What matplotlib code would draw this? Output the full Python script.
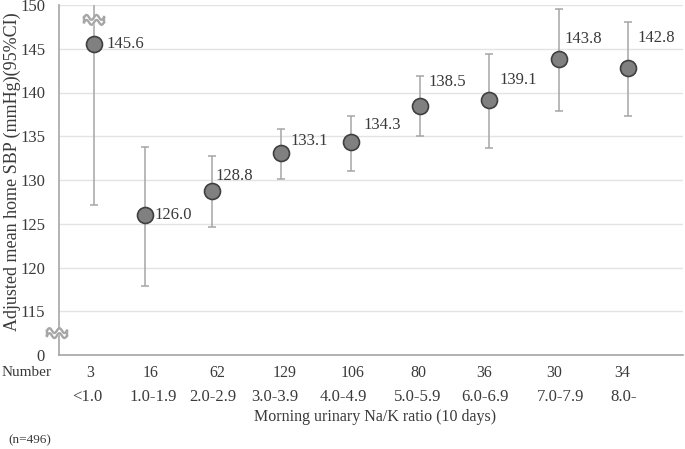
import numpy as np
import matplotlib
matplotlib.use("Agg")
import matplotlib.pyplot as plt
import matplotlib.transforms as mtransforms

plt.rcParams['font.family'] = ['Liberation Serif', 'DejaVu Serif']

# ---- data ----
categories = ["<1.0", "1.0-1.9", "2.0-2.9", "3.0-3.9", "4.0-4.9",
              "5.0-5.9", "6.0-6.9", "7.0-7.9", "8.0-"]
numbers = ["3", "16", "62", "129", "106", "80", "36", "30", "34"]
means = [145.6, 126.0, 128.8, 133.1, 134.3, 138.5, 139.1, 143.8, 142.8]
ci_low = [127.2, 117.9, 124.6, 130.1, 131.0, 135.0, 133.7, 137.9, 137.3]
ci_high = [164.0, 133.8, 132.7, 135.8, 137.3, 141.9, 144.4, 149.5, 148.1]
ytick_vals = [110, 115, 120, 125, 130, 135, 140, 145, 150]
ytick_labels = ["0", "115", "120", "125", "130", "135", "140", "145", "150"]

# ---- layout (positions, offsets) ----
xpos = [0.30, 1.03, 2.0, 3.0, 4.0, 5.0, 6.0, 7.0, 8.0]
num_x = [0.24, 1.11, 2.07, 3.05, 4.03, 4.97, 5.93, 6.94, 7.92]
cat_x = [0.20, 1.15, 2.01, 2.90, 3.90, 4.97, 5.93, 7.02, 7.94]
lab_dx = [12, 10, 4, 9, 13, 8, 10, 6, 9]      # pixels
lab_dy = [0, 0, 15, 12, 17, 24, 20, 20, 30]   # pixels

TXT = '#3A3A3A'
W, H = 685, 449
fig = plt.figure(figsize=(W / 100, H / 100), dpi=100)
ax = fig.add_axes([59 / W, 1 - 355 / H, (683 - 59) / W, 350 / H])

ax.set_ylim(110, 150)
ax.set_xlim(-0.205, 8.79)
ax.set_yticks(ytick_vals)
ax.set_yticklabels(ytick_labels, fontsize=12)
ax.set_xticks([])
ax.tick_params(axis='y', length=0, pad=10, labelcolor=TXT)
for y in ytick_vals[1:]:
    ax.axhline(y, color='#E3E3E3', lw=1.0, zorder=0)
for s in ['top', 'right']:
    ax.spines[s].set_visible(False)
for s in ['left', 'bottom']:
    ax.spines[s].set_color('#A6A6A6')
    ax.spines[s].set_linewidth(1.2)

m = np.array(means)
yerr = np.array([m - np.array(ci_low), np.array(ci_high) - m])
ax.errorbar(xpos, means, yerr=yerr, fmt='none', ecolor='#A6A6A6',
            elinewidth=1.1, capsize=3.2, capthick=1.1, zorder=2)
ax.plot(xpos, means, 'o', ms=11.5, mfc='#808080', mec='#3F3F3F', mew=1.2,
        zorder=4, linestyle='none')

for i, (x, v) in enumerate(zip(xpos, means)):
    ax.annotate(f"{v:.1f}", (x, v), xytext=(lab_dx[i] * 0.72, lab_dy[i] * 0.72),
                textcoords='offset points', ha='left', va='center', fontsize=12,
                color=TXT, zorder=5)


def break_mark(x, y, w=0.10, h=0.05, amp=0.024):
    t = np.linspace(-w, w, 80)
    wave = amp * np.sin(2 * np.pi * t / w)
    tr = fig.dpi_scale_trans + mtransforms.ScaledTranslation(x, y, ax.transData)
    ax.fill_between(t, wave - h / 2, wave + h / 2, color='white', transform=tr,
                    zorder=6, clip_on=False)
    kw = dict(color='#A6A6A6', lw=1.7, transform=tr, zorder=7, clip_on=False)
    ax.plot(t, wave + h / 2, **kw)
    ax.plot(t, wave - h / 2, **kw)
    ax.plot([t[0], t[0]], [wave[0] - h / 2, wave[0] + h / 2], **kw)
    ax.plot([t[-1], t[-1]], [wave[-1] - h / 2, wave[-1] + h / 2], **kw)


# break on the first error bar (top) and on the y-axis
break_mark(xpos[0], 148.3)
break_mark(-0.235, 112.5)

# bottom text rows
row_trans = mtransforms.blended_transform_factory(ax.transData, fig.transFigure)
for x, s in zip(num_x, numbers):
    ax.text(x, 1 - 373 / H, s, transform=row_trans, ha='center', va='center',
            fontsize=11.5, color=TXT)
for x, s in zip(cat_x, categories):
    ax.text(x, 1 - 397 / H, s, transform=row_trans, ha='center', va='center',
            fontsize=12, color=TXT)
fig.text(27 / W, 1 - 373 / H, "Number", ha='center', va='center', fontsize=11,
         color=TXT)
fig.text(375 / W, 1 - 417 / H, "Morning urinary Na/K ratio (10 days)", ha='center',
         va='center', fontsize=11.5, color=TXT)
fig.text(8 / W, 1 - 440 / H, "(n=496)", ha='left', va='center', fontsize=9.5,
         color=TXT)
fig.text(12 / W, 1 - 172 / H, "Adjusted mean home SBP (mmHg)(95%CI)", rotation=90,
         ha='center', va='center', fontsize=13, color=TXT)

fig.savefig("out.png", dpi=100)
